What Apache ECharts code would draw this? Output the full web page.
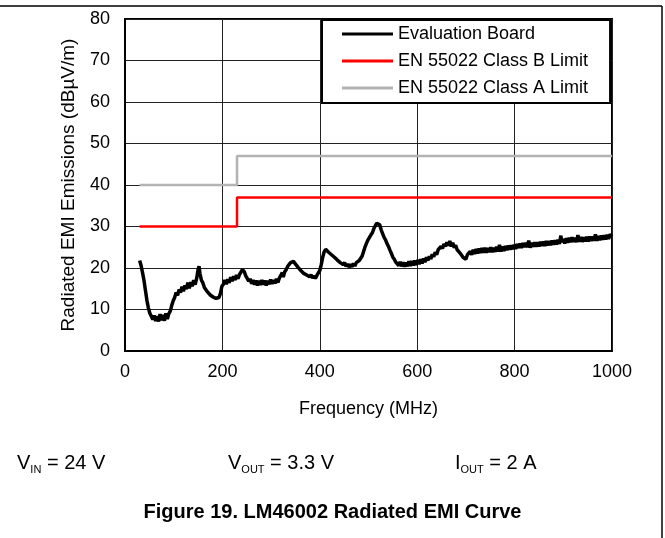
<!DOCTYPE html>
<html>
<head>
<meta charset="utf-8">
<script src="https://cdn.jsdelivr.net/npm/echarts@6/dist/echarts.min.js"></script>
<style>
  html, body { margin: 0; padding: 0; background: #fff; }
  #chart { width: 665px; height: 538px; }
</style>
</head>
<body>
<div id="chart"></div>
<script>
var xTicks = [0, 200, 400, 600, 800, 1000];
var yTicks = [0, 10, 20, 30, 40, 50, 60, 70, 80];

// [MHz, dBuV/m]
var evalBoard = [
  [30,21.8],[33,20.6],[36,18.9],[39,17],[42,14.6],[45,12.2],[48,10.4],[51,9.1],[54,8.4],[57,7.6],
  [60,8.6],[63,7.2],[66,8.4],[69,7.1],[72,8.9],[75,7.4],[78,8.7],[81,7.3],[84,9.1],[87,7.7],
  [90,9.0],[93,9.6],[96,11],[99,12.1],[102,12.9],[105,14.1],[108,13.4],[111,14.8],[114,14.1],[117,15.5],
  [120,14.4],[123,15.8],[126,14.9],[129,16.5],[132,15.1],[135,16.6],[138,15.6],[141,17.1],[144,16],[147,17.4],
  [150,19.6],[152,20.4],[154,18.6],[157,17],[160,16.4],[163,15.3],[166,15],[169,14.3],[172,14.2],[175,13.5],
  [178,13.6],[181,13],[184,13.2],[187,12.7],[190,13],[193,12.9],[196,13.9],[199,15.6],[202,16.1],[205,17.1],
  [208,16.1],[211,17.3],[214,16.4],[217,17.8],[220,16.8],[223,18],[226,17.1],[229,18.3],[232,17.4],[235,18.4],
  [238,18.6],[241,19.6],[243,20],[245,19.1],[248,18.1],[251,17.5],[254,16.8],[257,17.4],[260,16.2],[263,17.1],
  [266,16],[269,17],[272,15.8],[275,16.9],[278,15.9],[281,17.1],[284,16],[287,17],[290,15.8],[293,16.9],
  [296,16.1],[299,17.2],[302,16.2],[305,17.1],[308,16.3],[311,17.4],[314,16.5],[317,17.6],[320,17.2],[323,18.9],
  [325,17.8],[328,19.1],[331,19.6],[334,20.4],[337,20.6],[340,21.3],[343,21],[346,21.6],[349,21.1],[352,20.7],
  [355,20.2],[358,20],[361,19.4],[364,19.6],[367,18.7],[370,19.1],[373,18.3],[376,18.7],[379,17.9],[382,18.4],
  [385,17.6],[388,18.1],[391,17.5],[394,18.2],[397,18.3],[400,19.4],[403,20.8],[406,22.6],[409,23.9],[412,24.5],
  [415,24.6],[418,23.8],[421,23.9],[424,23.2],[427,23.3],[430,22.6],[433,22.8],[436,21.9],[439,22.2],[442,21.3],
  [445,21.7],[448,20.8],[451,21.3],[454,20.4],[457,21],[460,20.2],[463,20.9],[466,20.3],[469,21.1],[472,20.5],
  [475,21.3],[478,21.2],[481,21.8],[484,22],[487,22.9],[490,24],[493,25.1],[496,26],[499,26.8],[502,27.4],
  [505,28],[508,28.5],[511,29.5],[514,30.2],[517,30.8],[520,31.2],[523,30.4],[526,29.2],[529,28.3],[532,27.4],
  [535,26.8],[538,25.9],[541,25.2],[544,24.3],[547,23.5],[550,22.6],[553,22.1],[556,21.4],[559,21.8],[562,20.6],
  [565,21.5],[568,20.4],[571,21.4],[574,20.3],[577,21.3],[580,20.4],[583,21.6],[586,20.5],[589,21.7],[592,20.6],
  [595,21.8],[598,20.7],[601,21.9],[604,20.9],[607,22.1],[610,21.1],[613,22.3],[616,21.4],[619,22.6],[622,21.8],
  [625,22.8],[628,22.2],[631,23.3],[634,22.7],[637,23.8],[640,23.2],[643,24.4],[646,24.1],[649,25.2],[652,24.7],
  [655,25.8],[658,25.2],[661,26.2],[664,25.4],[667,26.5],[670,25.2],[673,26.1],[676,24.9],[679,25.5],[682,24.4],
  [685,24.6],[688,23.6],[691,23.8],[694,22.6],[697,22.8],[700,22.1],[703,23.2],[706,22.9],[709,24],[712,23.2],
  [715,24.4],[718,23.4],[721,24.6],[724,23.5],[727,24.7],[730,23.6],[733,24.8],[736,23.7],[739,24.9],[742,23.7],
  [745,24.8],[748,23.8],[751,25],[754,23.8],[757,24.9],[760,23.9],[763,25.1],[766,24],[769,25.6],[772,24],
  [775,25.2],[778,24.1],[781,25.3],[784,24.3],[787,25.4],[790,24.4],[793,25.5],[796,24.5],[799,25.6],[802,24.6],
  [805,25.8],[808,24.8],[811,25.9],[814,24.8],[817,26],[820,25],[823,26.1],[826,25],[829,26.6],[832,24.9],
  [835,26.1],[838,25.1],[841,26.2],[844,25.1],[847,26.2],[850,25.2],[853,26.3],[856,25.3],[859,26.4],[862,25.3],
  [865,26.5],[868,25.4],[871,26.5],[874,25.5],[877,26.6],[880,25.6],[883,26.7],[886,25.7],[889,26.8],[892,25.8],
  [895,27.8],[897,26.2],[900,27],[903,25.9],[906,27.2],[909,26.1],[912,27.3],[915,26.2],[918,27.4],[921,26.3],
  [924,27.3],[927,26.2],[930,27.9],[933,26.3],[936,27.5],[939,26.3],[942,27.4],[945,26.4],[948,27.5],[951,26.4],
  [954,27.6],[957,26.5],[960,27.6],[963,26.6],[966,28.1],[969,26.6],[972,27.7],[975,26.7],[978,27.8],[981,26.8],
  [984,27.9],[987,26.9],[990,28],[993,27],[996,28.1],[1000,27.6]
];

var classB = [[30, 30], [230, 30], [230, 37], [1000, 37]];
var classA = [[30, 40], [230, 40], [230, 47], [1000, 47]];

var font = 'Arial, "Liberation Sans", Helvetica, sans-serif';

var myChart = echarts.init(document.getElementById('chart'));

var subRich = {
  a: { fontSize: 20, lineHeight: 22, verticalAlign: 'top', fontFamily: font, fill: '#000' },
  s: { fontSize: 11, lineHeight: 9, verticalAlign: 'bottom', fontFamily: font, fill: '#000' }
};

var option = {
  backgroundColor: '#fff',
  animation: false,
  textStyle: { fontFamily: font },
  grid: {
    left: 125,
    right: 53,
    top: 19,
    bottom: 187,
    show: true,
    borderColor: '#000',
    borderWidth: 2
  },
  legend: {
    orient: 'vertical',
    left: 322,
    top: 20,
    padding: [4, 22, 5, 20],
    itemGap: 7,
    itemWidth: 51,
    itemHeight: 3,
    icon: 'rect',
    backgroundColor: '#fff',
    borderColor: '#000',
    borderWidth: 2,
    borderRadius: 0,
    textStyle: { fontSize: 18, lineHeight: 20, color: '#000', fontFamily: font },
    data: ['Evaluation Board', 'EN 55022 Class B Limit', 'EN 55022 Class A Limit']
  },
  xAxis: {
    type: 'value',
    min: xTicks[0],
    max: xTicks[xTicks.length - 1],
    interval: 200,
    name: 'Frequency (MHz)',
    nameLocation: 'middle',
    nameGap: 49,
    nameTextStyle: { fontSize: 18, color: '#000', fontFamily: font },
    axisLine: { lineStyle: { color: '#000', width: 2 } },
    axisTick: { show: false },
    axisLabel: { fontSize: 18, color: '#000', margin: 12, formatter: function (v) { return String(v); } },
    splitLine: { show: true, lineStyle: { color: '#222', width: 1 } }
  },
  yAxis: {
    type: 'value',
    min: yTicks[0],
    max: yTicks[yTicks.length - 1],
    interval: 10,
    name: 'Radiated EMI Emissions (dBµV/m)',
    nameLocation: 'middle',
    nameGap: 47,
    nameTextStyle: { fontSize: 19, color: '#000', fontFamily: font },
    axisLine: { show: true, lineStyle: { color: '#000', width: 2 } },
    axisTick: { show: false },
    axisLabel: { fontSize: 18, color: '#000', margin: 15 },
    splitLine: { show: true, lineStyle: { color: '#222', width: 1 } }
  },
  series: [
    {
      name: 'Evaluation Board',
      type: 'line',
      data: evalBoard,
      symbol: 'none',
      color: '#000',
      z: 4,
      lineStyle: { color: '#000', width: 3.5 }
    },
    {
      name: 'EN 55022 Class B Limit',
      type: 'line',
      data: classB,
      symbol: 'none',
      color: '#ff0000',
      lineStyle: { color: '#ff0000', width: 2.5 }
    },
    {
      name: 'EN 55022 Class A Limit',
      type: 'line',
      data: classA,
      symbol: 'none',
      color: '#b3b3b3',
      lineStyle: { color: '#b3b3b3', width: 2.5 }
    }
  ],
  graphic: [
    { type: 'line', shape: { x1: 0, y1: 6, x2: 662, y2: 6 }, style: { stroke: '#000', lineWidth: 1.5 } },
    { type: 'line', shape: { x1: 662, y1: 6, x2: 662, y2: 538 }, style: { stroke: '#000', lineWidth: 1.5 } },
    { type: 'text', left: 17, top: 453, style: { text: '{a|V}{s|IN}{a| = 24 V}', rich: subRich } },
    { type: 'text', left: 228, top: 453, style: { text: '{a|V}{s|OUT}{a| = 3.3 V}', rich: subRich } },
    { type: 'text', left: 455, top: 453, style: { text: '{a|I}{s|OUT}{a| = 2 A}', rich: subRich } },
    {
      type: 'text', left: 'center', top: 502,
      style: {
        text: 'Figure 19. LM46002 Radiated EMI Curve',
        fontSize: 20, fontWeight: 'bold', fontFamily: font, fill: '#000'
      }
    }
  ]
};

myChart.setOption(option);
</script>
</body>
</html>
